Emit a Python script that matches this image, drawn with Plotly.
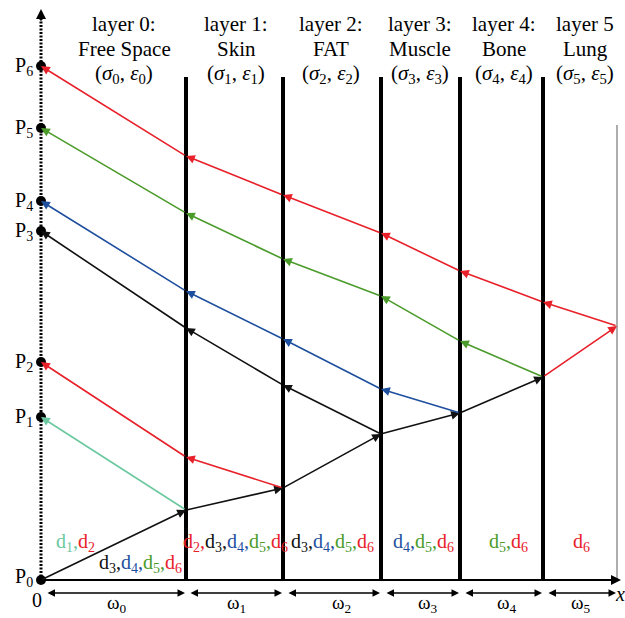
import plotly.graph_objects as go

W, H = 625, 618
FONT = "Liberation Serif"

# ---- data ----
boundaries = [186, 283, 381, 460, 543]
right_edge = 617
axis_x = 41
base_y = 580
wall_top = 77
right_top = 125

P_y = [580, 417, 362, 231, 201, 128, 66]

fwd_x = [41, 186, 283, 381, 460, 543, 617]
fwd_y = [580, 510, 488, 434, 413, 377, 326]

RED, GREEN, BLUE, TEAL, BLACK = "#e8202a", "#4b9b2b", "#1e4f9e", "#6cc8a0", "#111111"
fwd_col = [BLACK, BLACK, BLACK, BLACK, BLACK, RED]

ret_paths = {
    "d1": (TEAL, [186, 41], [510, 417]),
    "d2": (RED, [283, 186, 41], [488, 457, 362]),
    "d3": (BLACK, [381, 283, 186, 41], [434, 385, 328, 231]),
    "d4": (BLUE, [460, 381, 283, 186, 41], [413, 389, 339, 291, 201]),
    "d5": (GREEN, [543, 460, 381, 283, 186, 41], [377, 341, 296, 259, 213, 128]),
    "d6": (RED, [617, 543, 460, 381, 283, 186, 41], [326, 302, 271, 233, 195, 156, 66]),
}

layer_names = ["Free Space", "Skin", "FAT", "Muscle", "Bone", "Lung"]
layer_heads = ["layer 0:", "layer 1:", "layer 2:", "layer 3:", "layer 4:", "layer 5"]
layer_cx = [124, 236, 331, 420, 504, 585]

omega_cx = [117, 236, 341, 428, 507, 581]
dim_edges = [(46, 185), (189, 282), (287, 380), (385, 459), (464, 542), (547, 616)]

cmap = {1: TEAL, 2: RED, 3: BLACK, 4: BLUE, 5: GREEN, 6: RED}
d_groups = [
    ([1, 2], 75, 542),
    ([3, 4, 5, 6], 140, 563),
    ([2, 3, 4, 5, 6], 235, 542),
    ([3, 4, 5, 6], 332, 542),
    ([4, 5, 6], 423, 542),
    ([5, 6], 508, 542),
    ([6], 581, 542),
]

fig = go.Figure()
ann = []

# dotted vertical axis
fig.add_trace(go.Scatter(x=[axis_x, axis_x], y=[base_y, 16], mode="lines",
                         line=dict(color="black", width=3, dash="2px,1.5px"), hoverinfo="skip"))
ann.append(dict(x=axis_x, y=9, ax=axis_x, ay=22, xref="x", yref="y", axref="x", ayref="y",
                showarrow=True, arrowhead=2, arrowsize=1, arrowwidth=2, arrowcolor="black", text=""))

# thick walls
for bx in boundaries:
    fig.add_trace(go.Scatter(x=[bx, bx], y=[wall_top, base_y], mode="lines",
                             line=dict(color="black", width=4), hoverinfo="skip"))
# right thin border
fig.add_trace(go.Scatter(x=[right_edge, right_edge], y=[right_top, base_y], mode="lines",
                         line=dict(color="#777777", width=1.2), hoverinfo="skip"))

# baseline with arrow
ann.append(dict(x=621, y=base_y, ax=axis_x, ay=base_y, xref="x", yref="y", axref="x", ayref="y",
                showarrow=True, arrowhead=2, arrowsize=1, arrowwidth=2, arrowcolor="black", text=""))

# dimension arrows
for (a, b) in dim_edges:
    ann.append(dict(x=b, y=593, ax=a, ay=593, xref="x", yref="y", axref="x", ayref="y",
                    showarrow=True, arrowhead=2, startarrowhead=2, arrowside="end+start",
                    arrowsize=1, arrowwidth=1.5, arrowcolor="black", text=""))

# forward path segments
for i in range(len(fwd_x) - 1):
    ann.append(dict(x=fwd_x[i + 1], y=fwd_y[i + 1], ax=fwd_x[i], ay=fwd_y[i],
                    xref="x", yref="y", axref="x", ayref="y", showarrow=True,
                    arrowhead=2, arrowsize=1.1, arrowwidth=1.6, arrowcolor=fwd_col[i], text=""))

# return paths
for key, (col, xs, ys) in ret_paths.items():
    for i in range(len(xs) - 1):
        ann.append(dict(x=xs[i + 1], y=ys[i + 1], ax=xs[i], ay=ys[i],
                        xref="x", yref="y", axref="x", ayref="y", showarrow=True,
                        arrowhead=2, arrowsize=1.1, arrowwidth=1.6, arrowcolor=col, text=""))

# P dots
fig.add_trace(go.Scatter(x=[axis_x] * len(P_y), y=P_y, mode="markers",
                         marker=dict(color="black", size=10), hoverinfo="skip"))
for i, py in enumerate(P_y):
    yy = py - 3 if i == 0 else py
    ann.append(dict(x=24, y=yy, xref="x", yref="y", showarrow=False,
                    text=f"P<sub>{i}</sub>", font=dict(family=FONT, size=20, color="black"),
                    xanchor="center", yanchor="middle"))

ann.append(dict(x=37, y=600, xref="x", yref="y", showarrow=False, text="0",
                font=dict(family=FONT, size=20, color="black")))
ann.append(dict(x=620, y=594, xref="x", yref="y", showarrow=False, text="<i>x</i>",
                font=dict(family=FONT, size=20, color="black")))

# layer titles
for i in range(6):
    cx = layer_cx[i]
    ann.append(dict(x=cx, y=24, xref="x", yref="y", showarrow=False, text=layer_heads[i],
                    font=dict(family=FONT, size=21, color="black")))
    ann.append(dict(x=cx, y=49, xref="x", yref="y", showarrow=False, text=layer_names[i],
                    font=dict(family=FONT, size=21, color="black")))
    ann.append(dict(x=cx, y=74, xref="x", yref="y", showarrow=False,
                    text=f"(<i>σ</i><sub>{i}</sub>, <i>ε</i><sub>{i}</sub>)",
                    font=dict(family=FONT, size=21, color="black")))

# omega labels
for i, cx in enumerate(omega_cx):
    ann.append(dict(x=cx, y=604, xref="x", yref="y", showarrow=False,
                    text=f"ω<sub>{i}</sub>", font=dict(family=FONT, size=19, color="black")))

# d labels
for ids, cx, cy in d_groups:
    parts = []
    for j, d in enumerate(ids):
        sep = "," if j < len(ids) - 1 else ""
        parts.append(f'<span style="color:{cmap[d]}">d<sub>{d}</sub>{sep}</span>')
    ann.append(dict(x=cx, y=cy, xref="x", yref="y", showarrow=False, text="".join(parts),
                    font=dict(family=FONT, size=20, color="black")))

fig.update_layout(
    width=W, height=H, margin=dict(l=0, r=0, t=0, b=0),
    paper_bgcolor="white", plot_bgcolor="white", showlegend=False,
    xaxis=dict(range=[0, W], visible=False, fixedrange=True),
    yaxis=dict(range=[H, 0], visible=False, fixedrange=True),
    annotations=ann,
)
fig.write_html("out.html")
